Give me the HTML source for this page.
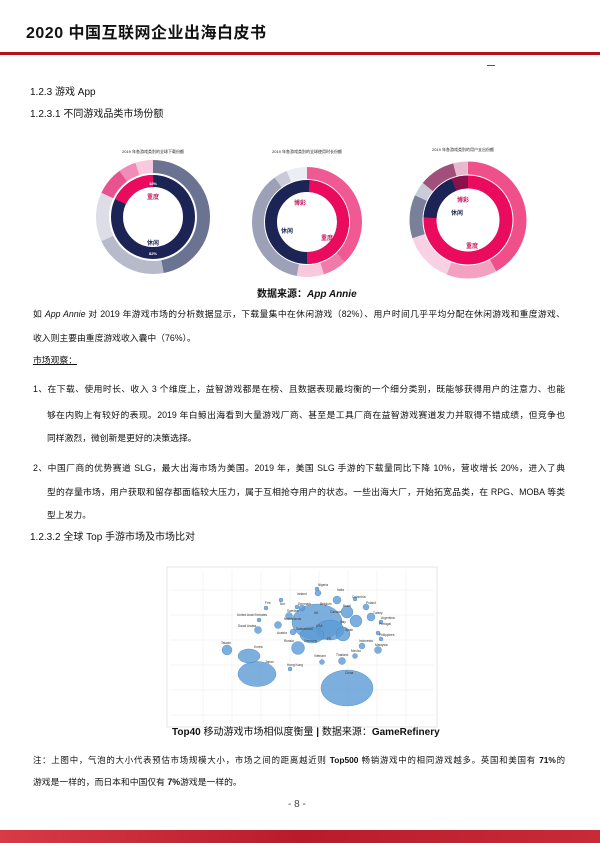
<!DOCTYPE html>
<html><head><meta charset="utf-8"><style>
body{margin:0;width:600px;height:843px;position:relative;background:#fff;overflow:hidden;font-family:"Liberation Sans","Noto Sans CJK SC",sans-serif;color:#111}
.t{position:absolute;font-size:9.5px;line-height:16px;white-space:nowrap}
.j{text-align:justify;text-align-last:justify;white-space:normal;overflow:hidden;height:16px;font-size:8.8px}
.b{font-weight:bold}
</style></head><body>
<div class="t b" style="left:26px;top:24px;font-size:16px;line-height:20px;letter-spacing:0.5px">2020 中国互联网企业出海白皮书</div>
<div style="position:absolute;left:0;top:52px;width:600px;height:3px;background:#b5121b"></div>
<div style="position:absolute;left:487px;top:65px;width:8px;height:1px;background:#555"></div>
<div class="t" style="left:30px;top:85px;font-size:10px">1.2.3 游戏 App</div>
<div class="t" style="left:30px;top:107px;font-size:10px">1.2.3.1 不同游戏品类市场份额</div>

<svg style="position:absolute;left:0;top:0" width="600" height="843">
<g font-size="4" fill="#222" text-anchor="middle">
<text x="153" y="153">2019 年各游戏类别的全球下载份额</text>
<text x="307" y="153">2019 年各游戏类别的全球使用时长份额</text>
<text x="463" y="151">2019 年各游戏类别的用户支出份额</text>
</g>
<g transform="rotate(-90 153 217)" fill="none">
<circle cx="153" cy="217" r="36" stroke="#1b2454" stroke-width="12"/>
<circle cx="153" cy="217" r="36" stroke="#ea0a5e" stroke-width="12" pathLength="100" stroke-dasharray="18 100" stroke-dashoffset="-82"/>
<circle cx="153" cy="217" r="50.5" stroke="#6a7391" stroke-width="13" pathLength="100" stroke-dasharray="47 100"/>
<circle cx="153" cy="217" r="50.5" stroke="#b6bacb" stroke-width="13" pathLength="100" stroke-dasharray="21 100" stroke-dashoffset="-47"/>
<circle cx="153" cy="217" r="50.5" stroke="#dcdde6" stroke-width="13" pathLength="100" stroke-dasharray="14 100" stroke-dashoffset="-68"/>
<circle cx="153" cy="217" r="50.5" stroke="#e8538f" stroke-width="13" pathLength="100" stroke-dasharray="8 100" stroke-dashoffset="-82"/>
<circle cx="153" cy="217" r="50.5" stroke="#f08cb5" stroke-width="13" pathLength="100" stroke-dasharray="5 100" stroke-dashoffset="-90"/>
<circle cx="153" cy="217" r="50.5" stroke="#f8cade" stroke-width="13" pathLength="100" stroke-dasharray="5 100" stroke-dashoffset="-95"/>
</g>
<g transform="rotate(-90 307 222)" fill="none">
<circle cx="307" cy="222" r="36" stroke="#1b2454" stroke-width="12"/>
<circle cx="307" cy="222" r="36" stroke="#ea0a5e" stroke-width="12" pathLength="100" stroke-dasharray="49 100" stroke-dashoffset="-1"/>
<circle cx="307" cy="222" r="49" stroke="#f05a94" stroke-width="12" pathLength="100" stroke-dasharray="38 100"/>
<circle cx="307" cy="222" r="49" stroke="#f07aa8" stroke-width="12" pathLength="100" stroke-dasharray="7 100" stroke-dashoffset="-38"/>
<circle cx="307" cy="222" r="49" stroke="#f8c8dc" stroke-width="12" pathLength="100" stroke-dasharray="8 100" stroke-dashoffset="-45"/>
<circle cx="307" cy="222" r="49" stroke="#9ca1b7" stroke-width="12" pathLength="100" stroke-dasharray="37 100" stroke-dashoffset="-53"/>
<circle cx="307" cy="222" r="49" stroke="#c9ccd8" stroke-width="12" pathLength="100" stroke-dasharray="4 100" stroke-dashoffset="-90"/>
<circle cx="307" cy="222" r="49" stroke="#eceef3" stroke-width="12" pathLength="100" stroke-dasharray="6 100" stroke-dashoffset="-94"/>
</g>
<g transform="rotate(-90 468 220)" fill="none">
<circle cx="468" cy="220" r="38" stroke="#ea0a5e" stroke-width="13"/>
<circle cx="468" cy="220" r="38" stroke="#1b2454" stroke-width="13" pathLength="100" stroke-dasharray="18 100" stroke-dashoffset="-76"/>
<circle cx="468" cy="220" r="38" stroke="#8a1050" stroke-width="13" pathLength="100" stroke-dasharray="6 100" stroke-dashoffset="-94"/>
<circle cx="468" cy="220" r="52" stroke="#f0508a" stroke-width="13" pathLength="100" stroke-dasharray="42 100"/>
<circle cx="468" cy="220" r="52" stroke="#f4a0c0" stroke-width="13" pathLength="100" stroke-dasharray="14 100" stroke-dashoffset="-42"/>
<circle cx="468" cy="220" r="52" stroke="#f8d2e2" stroke-width="13" pathLength="100" stroke-dasharray="14 100" stroke-dashoffset="-56"/>
<circle cx="468" cy="220" r="52" stroke="#7a8099" stroke-width="13" pathLength="100" stroke-dasharray="12 100" stroke-dashoffset="-70"/>
<circle cx="468" cy="220" r="52" stroke="#c9ccd8" stroke-width="13" pathLength="100" stroke-dasharray="4 100" stroke-dashoffset="-82"/>
<circle cx="468" cy="220" r="52" stroke="#a0507a" stroke-width="13" pathLength="100" stroke-dasharray="10 100" stroke-dashoffset="-86"/>
<circle cx="468" cy="220" r="52" stroke="#e8b8cc" stroke-width="13" pathLength="100" stroke-dasharray="4 100" stroke-dashoffset="-96"/>
</g>
<g font-size="6" font-weight="bold" text-anchor="middle">
<text x="153" y="199" fill="#c8105a">重度</text><text x="153" y="245" fill="#1b2454">休闲</text>
<text x="153" y="185" fill="#fff" font-size="4">18%</text><text x="153" y="255" fill="#fff" font-size="4">82%</text>
<text x="300" y="205" fill="#c8105a">博彩</text><text x="287" y="233" fill="#1b2454">休闲</text><text x="327" y="240" fill="#c8105a">重度</text>
<text x="463" y="202" fill="#c8105a">博彩</text><text x="457" y="215" fill="#1b2454">休闲</text><text x="472" y="248" fill="#c8105a">重度</text>
</g>
<rect x="167" y="567" width="270" height="160" fill="#fff" stroke="#e4e4e4"/>
<g stroke="#eeeeee" stroke-width="0.6">
<line x1="203" y1="570" x2="203" y2="725"/><line x1="232" y1="570" x2="232" y2="725"/><line x1="261" y1="570" x2="261" y2="725"/><line x1="290" y1="570" x2="290" y2="725"/><line x1="319" y1="570" x2="319" y2="725"/><line x1="348" y1="570" x2="348" y2="725"/><line x1="377" y1="570" x2="377" y2="725"/><line x1="406" y1="570" x2="406" y2="725"/>
<line x1="170" y1="590" x2="434" y2="590"/><line x1="170" y1="615" x2="434" y2="615"/><line x1="170" y1="640" x2="434" y2="640"/><line x1="170" y1="665" x2="434" y2="665"/><line x1="170" y1="690" x2="434" y2="690"/><line x1="170" y1="715" x2="434" y2="715"/>
</g>
<g fill="#5b9bd5" fill-opacity="0.8" stroke="#4a86c0" stroke-width="0.4">
<ellipse cx="347" cy="688" rx="26" ry="18"/>
<ellipse cx="257" cy="674" rx="19" ry="12.5"/>
<ellipse cx="249" cy="656" rx="11" ry="7"/>
<circle cx="227" cy="650" r="5"/>
<ellipse cx="317" cy="622" rx="25" ry="18"/>
<ellipse cx="330" cy="630" rx="14" ry="10"/>
<ellipse cx="312" cy="635" rx="12" ry="8"/>
<circle cx="343" cy="634" r="7"/>
<circle cx="347" cy="612" r="6"/>
<circle cx="356" cy="621" r="6"/>
<circle cx="298" cy="648" r="6.5"/>
<circle cx="337" cy="600" r="4"/>
<circle cx="318" cy="593" r="3"/>
<circle cx="302" cy="608" r="3"/>
<circle cx="289" cy="616" r="3.5"/>
<circle cx="278" cy="625" r="3.5"/>
<circle cx="293" cy="632" r="3"/>
<circle cx="258" cy="630" r="3.5"/>
<circle cx="259" cy="620" r="2"/>
<circle cx="266" cy="608" r="2"/>
<circle cx="281" cy="600" r="2"/>
<circle cx="297" cy="607" r="2"/>
<circle cx="317" cy="589" r="2"/>
<circle cx="355" cy="599" r="2"/>
<circle cx="366" cy="607" r="3"/>
<circle cx="371" cy="617" r="4"/>
<circle cx="381" cy="622" r="2"/>
<circle cx="378" cy="633" r="2"/>
<circle cx="381" cy="639" r="2"/>
<circle cx="362" cy="646" r="3"/>
<circle cx="378" cy="650" r="3.5"/>
<circle cx="355" cy="656" r="2.5"/>
<circle cx="342" cy="661" r="3.5"/>
<circle cx="322" cy="662" r="2.5"/>
<circle cx="290" cy="669" r="2"/>
</g>
<g font-size="3.2" fill="#333" font-family="Liberation Sans">
<text x="318" y="586">Nigeria</text><text x="337" y="591">India</text><text x="352" y="598">Colombia</text><text x="366" y="604">Poland</text><text x="373" y="614">Turkey</text><text x="381" y="619">Argentina</text><text x="379" y="625">Portugal</text><text x="379" y="636">Philippines</text><text x="359" y="642">Indonesia</text><text x="375" y="646">Malaysia</text><text x="351" y="652">Mexico</text><text x="336" y="656">Thailand</text><text x="314" y="657">Vietnam</text><text x="287" y="666">Hong Kong</text><text x="345" y="674">China</text><text x="265" y="663">Japan</text><text x="254" y="648">Korea</text><text x="221" y="644">Taiwan</text><text x="238" y="627">Saudi Arabia</text><text x="237" y="616">United Arab Emirates</text><text x="265" y="604">Fmt</text><text x="280" y="605">Nor</text><text x="297" y="595">Ireland</text><text x="298" y="605">Denmark</text><text x="320" y="605">Belgium</text><text x="343" y="607">Brazil</text><text x="330" y="613">Canada</text><text x="314" y="614">UK</text><text x="316" y="627">USA</text><text x="340" y="623">Italy</text><text x="345" y="631">Spain</text><text x="287" y="612">Sweden</text><text x="284" y="620">Netherlands</text><text x="296" y="630">Switzerland</text><text x="277" y="634">Austria</text><text x="304" y="642">Germany</text><text x="327" y="640">FR</text><text x="284" y="642">Russia</text>
</g>
</svg>

<div class="t b" style="left:257px;top:287px;font-size:10px">数据来源：<i>App Annie</i></div>

<div class="t j" style="left:33px;top:306px;width:532px">如 <i>App Annie</i> 对 2019 年游戏市场的分析数据显示，下载量集中在休闲游戏（82%）、用户时间几乎平均分配在休闲游戏和重度游戏、</div>
<div class="t" style="left:33px;top:330px;font-size:8.8px">收入则主要由重度游戏收入囊中（76%）。</div>
<div class="t" style="left:33px;top:352px;font-size:8.8px;text-decoration:underline">市场观察：</div>
<div class="t j" style="left:33px;top:381px;width:532px">1、在下载、使用时长、收入 3 个维度上，益智游戏都是在榜、且数据表现最均衡的一个细分类别，既能够获得用户的注意力、也能</div>
<div class="t j" style="left:47px;top:407px;width:518px">够在内购上有较好的表现。2019 年白鲸出海看到大量游戏厂商、甚至是工具厂商在益智游戏赛道发力并取得不错成绩，但竞争也</div>
<div class="t" style="left:47px;top:430px;font-size:8.8px">同样激烈，微创新是更好的决策选择。</div>
<div class="t j" style="left:33px;top:460px;width:532px">2、中国厂商的优势赛道 SLG，最大出海市场为美国。2019 年，美国 SLG 手游的下载量同比下降 10%，营收增长 20%，进入了典</div>
<div class="t j" style="left:47px;top:484px;width:518px">型的存量市场，用户获取和留存都面临较大压力，属于互相抢夺用户的状态。一些出海大厂，开始拓宽品类，在 RPG、MOBA 等类</div>
<div class="t" style="left:47px;top:507px;font-size:8.8px">型上发力。</div>
<div class="t" style="left:30px;top:530px;font-size:10px">1.2.3.2 全球 Top 手游市场及市场比对</div>

<div class="t b" style="left:172px;top:725px;font-size:10px">Top40 <span style="font-weight:normal">移动游戏市场相似度衡量</span> | <span style="font-weight:normal">数据来源：</span>GameRefinery</div>
<div class="t j" style="left:33px;top:752px;width:532px;font-size:8.4px">注：上图中，气泡的大小代表预估市场规模大小，市场之间的距离越近则 <b>Top500</b> 畅销游戏中的相同游戏越多。英国和美国有 <b>71%</b>的</div>
<div class="t" style="left:33px;top:774px;font-size:8.8px">游戏是一样的，而日本和中国仅有 <b>7%</b>游戏是一样的。</div>
<div class="t" style="left:288px;top:797px;font-size:10px;color:#444">- 8 -</div>
<div style="position:absolute;left:0;top:830px;width:600px;height:13px;background:linear-gradient(90deg,#d83a46,#b81c2a 50%,#c92a38)"></div>
</body></html>
